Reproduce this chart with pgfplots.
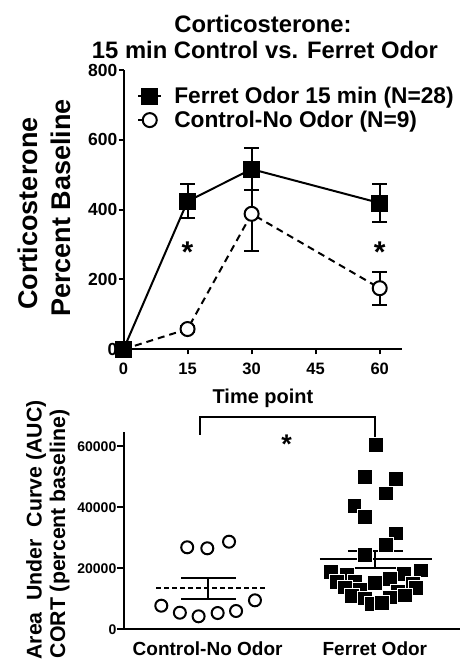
\documentclass[border=0pt]{standalone}
\usepackage{fontspec}
\setmainfont{Liberation Sans}
\usepackage{pgfplots}
\pgfplotsset{compat=1.18}
\begin{document}
\begin{tikzpicture}
\path[use as bounding box] (0pt,0pt) rectangle (474pt,659pt);
% ---------------- top plot ----------------
\begin{axis}[
  at={(123.5pt,309.7pt)}, anchor=south west, scale only axis,
  width=278pt, height=279.3pt,
  xmin=0, xmax=65.1, ymin=0, ymax=800,
  axis x line*=bottom, axis y line*=left,
  axis line style={line width=2pt, black},
  xtick={0,15,30,45,60}, ytick={0,200,400,600,800},
  tick align=outside, major tick length=5pt,
  every tick/.style={black, line width=2pt},
  /pgf/number format/assume math mode=true,
  xticklabel style={font=\fontsize{16.5}{16.5}\selectfont\bfseries, yshift=-5pt},
  yticklabel style={font=\fontsize{17.5}{17.5}\selectfont\bfseries, inner sep=1pt},
  clip=false,
  reverse legend,
  legend cell align=left,
  legend image code/.code={\draw[mark repeat=2,mark phase=2,#1] plot coordinates {(0pt,0pt) (11.5pt,0pt) (23pt,0pt)};},
  legend style={at={(0.038,0.95)}, anchor=north west, draw=none, fill=none,
    font=\fontsize{22.7}{26}\selectfont\bfseries, row sep=4pt,
    nodes={inner sep=1pt},
    /tikz/every odd column/.append style={column sep=11pt}},
]
\addplot[black, line width=2pt, dash pattern=on 7pt off 5pt,
  mark=*, mark size=7pt, mark options={solid, fill=white, draw=black, line width=2pt},
  error bars/.cd, y dir=both, y explicit,
  error bar style={line width=2pt, solid},
  error mark options={rotate=90, line width=2pt, mark size=7.5pt, solid}]
  coordinates {(0,0) +- (0,0) (15,58) +- (0,8) (30,388) +- (0,106) (60,175) +- (0,47)};
\addlegendentry{Control-No Odor (N=9)}
\addplot[black, line width=2pt, solid,
  mark=square*, mark size=7.5pt, mark options={solid, fill=black},
  error bars/.cd, y dir=both, y explicit,
  error bar style={line width=2pt, solid},
  error mark options={rotate=90, line width=2pt, mark size=7.5pt, solid}]
  coordinates {(0,0) +- (0,0) (15,424) +- (0,49) (30,516) +- (0,60) (60,419) +- (0,54)};
\addlegendentry{Ferret Odor 15 min (N=28)}
\node[font=\fontsize{30}{30}\selectfont\bfseries, anchor=north, inner sep=0pt] at (axis cs:15,307) {*};
\node[font=\fontsize{30}{30}\selectfont\bfseries, anchor=north, inner sep=0pt] at (axis cs:60,307) {*};
\end{axis}
% ---------------- bottom plot ----------------
\begin{axis}[
  at={(123.5pt,29.7pt)}, anchor=south west, scale only axis,
  width=336.5pt, height=197.6pt,
  xmin=-0.503, xmax=1.509, ymin=0, ymax=64787,
  axis x line*=bottom, axis y line*=left,
  axis line style={line width=2pt, black},
  xtick={0,1}, xticklabels={Control-No Odor, Ferret Odor},
  x tick style={draw=none},
  ytick={0,20000,40000,60000}, scaled y ticks=false,
  tick align=outside, major tick length=6pt,
  every tick/.style={black, line width=2pt},
  /pgf/number format/assume math mode=true,
  /pgf/number format/1000 sep={},
  xticklabel style={font=\fontsize{19}{19}\selectfont\bfseries, yshift=-3pt},
  yticklabel style={font=\fontsize{14}{14}\selectfont\bfseries, inner sep=1pt},
  clip=false,
]
% control circles
\addplot[only marks, mark=*, mark size=6pt, mark options={fill=white, draw=black, line width=2pt}]
  coordinates {(-0.277,7740) (-0.166,5440) (-0.054,4260) (0.060,5340) (0.170,6000) (0.283,9500)
               (-0.122,26885) (-0.002,26557) (0.128,28720)};
% ferret squares
\addplot[only marks, mark=square*, mark size=7.4pt, mark options={fill=black, draw=white, line width=0.4pt}]
  coordinates {(1.004,60426) (0.940,50030) (1.126,49280) (1.066,44590) (0.876,40430)
               (0.940,36920) (1.126,31475) (1.066,27640) (0.940,24360)
               (0.737,19000) (1.275,19400) (0.832,18000) (1.174,18300) (1.090,16500)
               (0.772,15500) (1.228,15000) (0.880,15800) (1.000,15300) (0.820,13800)
               (1.246,13700) (0.910,13000) (1.138,12500) (0.862,11000) (1.180,11200)
               (0.940,10200) (1.090,10500) (0.982,8500) (1.042,8600)};
% control mean and SEM
\addplot[black, line width=2pt, dash pattern=on 5pt off 3pt] coordinates {(-0.307,13440) (0.341,13440)};
\addplot[black, line width=2pt] coordinates {(-0.157,16900) (0.168,16900)};
\addplot[black, line width=2pt] coordinates {(-0.157,10030) (0.168,10030)};
\addplot[black, line width=2pt] coordinates {(0,10030) (0,16900)};
% ferret mean and SEM
\addplot[black, line width=2pt] coordinates {(0.671,23050) (1.339,23050)};
\addplot[black, line width=2pt] coordinates {(0.838,25670) (1.168,25670)};
\addplot[black, line width=2pt] coordinates {(0.838,20200) (1.168,20200)};
\addplot[black, line width=2pt] coordinates {(1,20200) (1,25670)};
% bracket
\draw[line width=2pt] (axis cs:-0.048,63705) -- (axis cs:-0.048,69705) -- (axis cs:1.0,69705) -- (axis cs:1.0,63150);
\node[font=\fontsize{27}{27}\selectfont\bfseries, anchor=north, inner sep=0pt] at (axis cs:0.473,63705) {*};
\end{axis}
% ---------------- texts ----------------
\node[anchor=base, font=\fontsize{23.8}{23.8}\selectfont\bfseries] at (263pt,626pt) {Corticosterone:};
\node[anchor=base, font=\fontsize{23.8}{23.8}\selectfont\bfseries] at (265pt,600.7pt) {15 min Control vs. Ferret Odor};
\node[anchor=base, rotate=90, font=\fontsize{27}{27}\selectfont\bfseries] at (37.5pt,445.5pt) {Corticosterone};
\node[anchor=base, rotate=90, font=\fontsize{27}{27}\selectfont\bfseries] at (70.7pt,451pt) {Percent Baseline};
\node[anchor=base, font=\fontsize{20}{20}\selectfont\bfseries] at (263pt,255.7pt) {Time point};
\node[anchor=base, rotate=90, font=\fontsize{21.3}{21.3}\selectfont\bfseries] at (41.7pt,129pt) {Area\ \ Under\ \ Curve (AUC)};
\node[anchor=base, rotate=90, font=\fontsize{21.3}{21.3}\selectfont\bfseries] at (65pt,125pt) {CORT (percent baseline)};
\end{tikzpicture}
\end{document}
